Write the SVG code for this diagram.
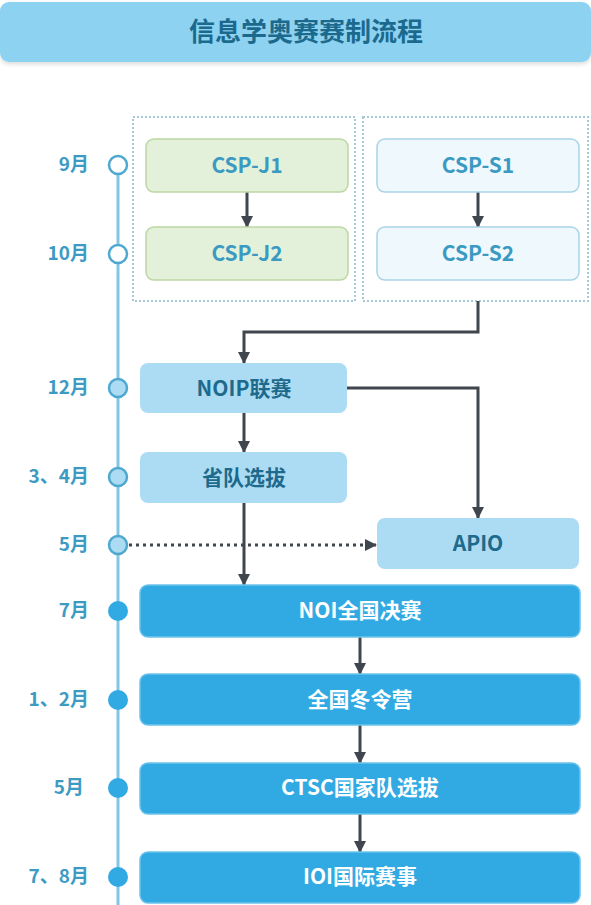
<svg xmlns="http://www.w3.org/2000/svg" width="591" height="905" viewBox="0 0 591 905">
<style>
text{font-family:"Noto Sans CJK SC","Noto Sans",sans-serif;font-weight:bold;text-anchor:middle}
.title{font-size:26px;fill:#1b6a8e}
.mon{font-size:19px;fill:#3d9bc3;text-anchor:end}
.lbl{font-size:21px}
.j rect{fill:#e4f1da;stroke:#bcd6a4;stroke-width:1.5}
.s rect{fill:#eff8fd;stroke:#a9d3e7;stroke-width:1.5}
.j text,.s text{fill:#3a9ac2}
.m rect{fill:#acdcf3}
.m text{fill:#1e6a8c}
.d rect{fill:#31aae3;stroke:#6cc3ec;stroke-width:1.5}
.d text{fill:#ffffff}
.frame{fill:none;stroke:#a7c9d5;stroke-width:2;stroke-dasharray:2 2}
.conn{fill:none;stroke:#3f464e;stroke-width:3}
.hol{fill:#ffffff;stroke:#4ea8cf;stroke-width:2.5}
.hol2{fill:#acdcf3;stroke:#4ea8cf;stroke-width:2.5}
.sol{fill:#31aae3}
</style>
<defs>
<marker id="ah" viewBox="0 0 12 12" refX="11" refY="6" markerWidth="12" markerHeight="12" markerUnits="userSpaceOnUse" orient="auto">
<path d="M0,0 L12,6 L0,12 z" fill="#3f464e"/>
</marker>
<filter id="sh" x="-5%" y="-20%" width="110%" height="150%">
<feDropShadow dx="0" dy="2" stdDeviation="2" flood-color="#000" flood-opacity="0.15"/>
</filter>
</defs>
<rect width="591" height="905" fill="#ffffff"/>
<g id="title">
<rect x="0" y="2" width="591" height="60" rx="9" fill="#8ed2f1" filter="url(#sh)"/>
<text class="title" x="306" y="41">信息学奥赛赛制流程</text>
</g>
<g id="frames">
<rect class="frame" x="133" y="117" width="222" height="184"/>
<rect class="frame" x="363" y="117" width="225" height="184"/>
</g>
<g id="timeline">
<line x1="118" y1="165" x2="118" y2="905" stroke="#83c6e3" stroke-width="3"/>
<circle class="hol" cx="118" cy="165" r="9"/>
<circle class="hol" cx="118" cy="254" r="9"/>
<circle class="hol2" cx="118" cy="388" r="9"/>
<circle class="hol2" cx="118" cy="477" r="9"/>
<circle class="hol2" cx="118" cy="545" r="9"/>
<circle class="sol" cx="118" cy="611" r="10"/>
<circle class="sol" cx="118" cy="700" r="10"/>
<circle class="sol" cx="118" cy="788" r="10"/>
<circle class="sol" cx="118" cy="877" r="10"/>
<text class="mon" x="89" y="171">9月</text>
<text class="mon" x="89" y="260">10月</text>
<text class="mon" x="89" y="394">12月</text>
<text class="mon" x="89" y="483">3、4月</text>
<text class="mon" x="89" y="551">5月</text>
<text class="mon" x="89" y="617">7月</text>
<text class="mon" x="89" y="706">1、2月</text>
<text class="mon" x="84" y="794">5月</text>
<text class="mon" x="89" y="883">7、8月</text>
</g>
<g id="connectors">
<path class="conn" d="M247,192 V227" marker-end="url(#ah)"/>
<path class="conn" d="M478,192 V227" marker-end="url(#ah)"/>
<path class="conn" d="M478,301 V332 H244 V363" marker-end="url(#ah)"/>
<path class="conn" d="M244,413 V452" marker-end="url(#ah)"/>
<path class="conn" d="M347,388 H478 V518" marker-end="url(#ah)"/>
<path class="conn" d="M244,503 V585" marker-end="url(#ah)"/>
<path class="conn" d="M129,545 H376" stroke-dasharray="3 4" marker-end="url(#ah)"/>
<path class="conn" d="M360,637 V674" marker-end="url(#ah)"/>
<path class="conn" d="M360,725 V763" marker-end="url(#ah)"/>
<path class="conn" d="M360,814 V852" marker-end="url(#ah)"/>
</g>
<g id="csp-j1" class="j"><rect x="146" y="139" width="202" height="53" rx="8"/><text class="lbl" x="247" y="173">CSP-J1</text></g>
<g id="csp-j2" class="j"><rect x="146" y="227" width="202" height="53" rx="8"/><text class="lbl" x="247" y="261">CSP-J2</text></g>
<g id="csp-s1" class="s"><rect x="377" y="139" width="202" height="53" rx="8"/><text class="lbl" x="478" y="173">CSP-S1</text></g>
<g id="csp-s2" class="s"><rect x="377" y="227" width="202" height="53" rx="8"/><text class="lbl" x="478" y="261">CSP-S2</text></g>
<g id="noip" class="m"><rect x="140" y="363" width="207" height="50" rx="8"/><text class="lbl" x="244" y="396">NOIP联赛</text></g>
<g id="shengdui" class="m"><rect x="140" y="452" width="207" height="51" rx="8"/><text class="lbl" x="244" y="485">省队选拔</text></g>
<g id="apio" class="m"><rect x="377" y="518" width="202" height="51" rx="8"/><text class="lbl" x="478" y="551">APIO</text></g>
<g id="noi" class="d"><rect x="140" y="585" width="440" height="52" rx="8"/><text class="lbl" x="360" y="618">NOI全国决赛</text></g>
<g id="winter" class="d"><rect x="140" y="674" width="440" height="51" rx="8"/><text class="lbl" x="360" y="707">全国冬令营</text></g>
<g id="ctsc" class="d"><rect x="140" y="763" width="440" height="51" rx="8"/><text class="lbl" x="360" y="795">CTSC国家队选拔</text></g>
<g id="ioi" class="d"><rect x="140" y="852" width="440" height="51" rx="8"/><text class="lbl" x="360" y="884">IOI国际赛事</text></g>
</svg>
